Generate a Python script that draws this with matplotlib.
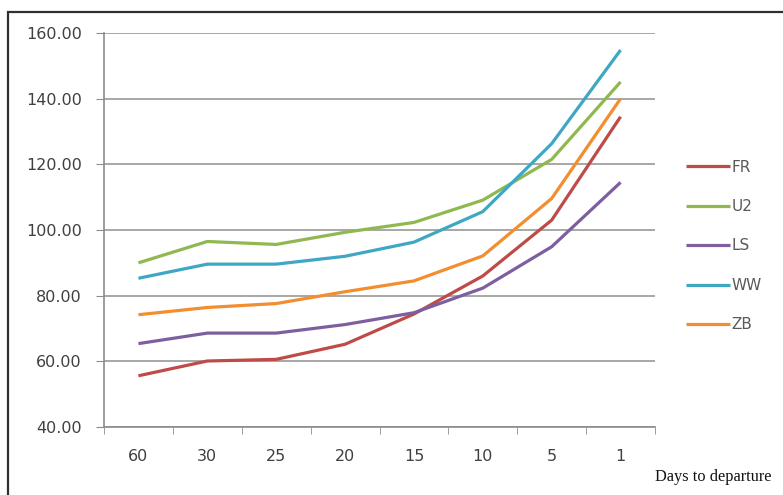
"""Fare by days to departure for five carriers, Excel-style line chart."""
import matplotlib

matplotlib.use("Agg")
import matplotlib.pyplot as plt
from matplotlib.patches import Rectangle

days = ["60", "30", "25", "20", "15", "10", "5", "1"]
fr = [55.6, 60.1, 60.6, 65.2, 74.4, 86.0, 103.0, 134.5]
u2 = [90.0, 96.5, 95.6, 99.3, 102.3, 109.1, 121.5, 145.1]
ls = [65.4, 68.6, 68.6, 71.2, 74.8, 82.3, 94.9, 114.5]
ww = [85.3, 89.6, 89.6, 92.0, 96.3, 105.6, 126.3, 154.8]
zb = [74.2, 76.4, 77.6, 81.2, 84.5, 92.1, 109.6, 140.0]

series = [
    ("FR", fr, "#BE4B48"),
    ("U2", u2, "#8FB850"),
    ("LS", ls, "#7D5FA0"),
    ("WW", ww, "#3FA7C4"),
    ("ZB", zb, "#F28E2F"),
]

W, H = 783, 495
fig = plt.figure(figsize=(W / 100, H / 100), dpi=100)
fig.patch.set_facecolor("white")

# outer chart border, running off the right and bottom edges
fig.patches.append(Rectangle((8 / W, -0.1), 1.2, 1 - 12 / H + 0.1,
                             transform=fig.transFigure, fill=False,
                             edgecolor="#303030", linewidth=1.6))

ax = fig.add_axes([104 / W, 1 - 427 / H, (655 - 104) / W, (427 - 33) / H])
x = list(range(len(days)))
for name, vals, color in series:
    ax.plot(x, vals, color=color, linewidth=2.3, label=name, solid_capstyle="butt")

ax.set_xlim(-0.5, len(days) - 0.5)
ax.set_ylim(40, 160)
ax.set_yticks(range(40, 161, 20))
ax.set_yticklabels([f"{v:.2f}" for v in range(40, 161, 20)])
ax.set_xticks(x)
ax.set_xticklabels(days)
ax.set_xticks([i - 0.5 for i in range(len(days) + 1)], minor=True)
ax.tick_params(axis="x", which="major", length=0, pad=16)
ax.tick_params(axis="x", which="minor", length=5, color="#8c8c8c", direction="out")
ax.tick_params(axis="y", length=6, color="#8c8c8c", direction="out", pad=10)
ax.tick_params(labelsize=11.5, labelcolor="#404040")

ax.grid(axis="y", color="#a0a0a0", linewidth=1.3)
ax.set_axisbelow(True)
for side in ("top", "right"):
    ax.spines[side].set_visible(False)
ax.spines["left"].set_color("#8c8c8c")
ax.spines["bottom"].set_color("#8c8c8c")
ax.spines["left"].set_linewidth(1.2)
ax.spines["bottom"].set_linewidth(1.2)

fig.text(655 / W, 1 - 477 / H, "Days to departure", family="Liberation Serif",
         fontsize=11.8, color="#111111", ha="left", va="center")

leg = fig.legend(loc="center left", bbox_to_anchor=(686 / W, 1 - 246 / H),
                 frameon=False, borderpad=0, borderaxespad=0, handlelength=2.9,
                 handletextpad=0.1, labelspacing=1.6,
                 prop={"size": 11})
for t in leg.get_texts():
    t.set_color("#595959")

fig.savefig("out.png", dpi=100)
